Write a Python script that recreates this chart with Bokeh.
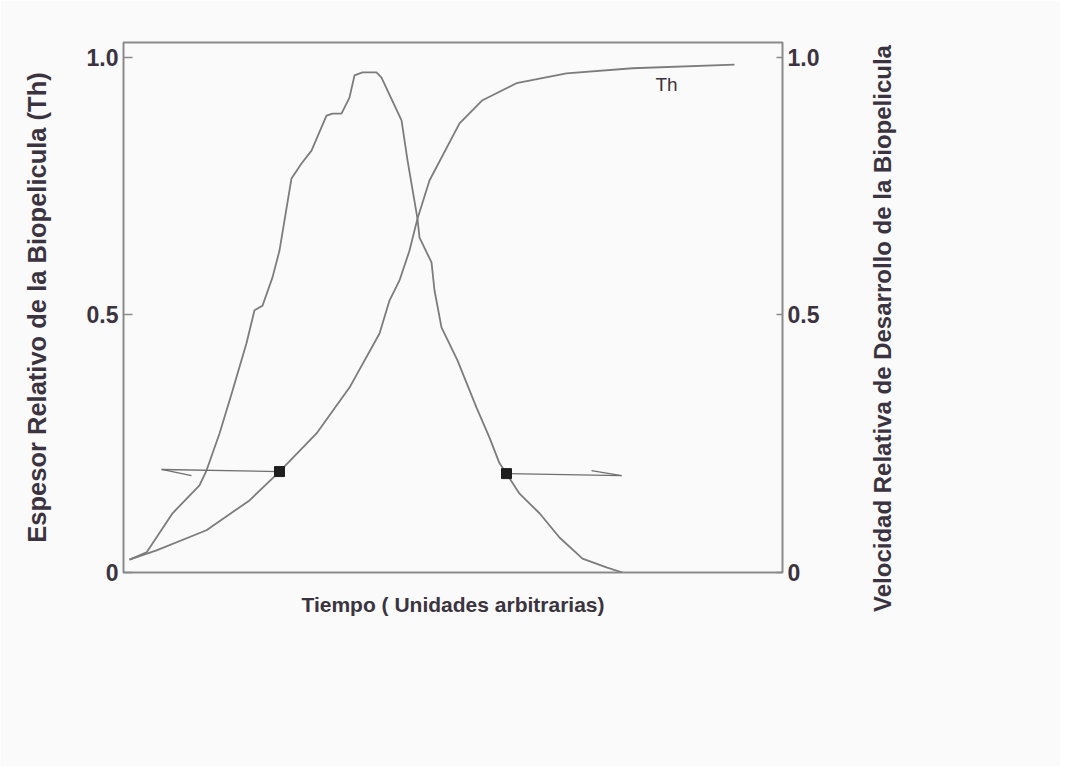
import math
from bokeh.plotting import figure
from bokeh.models import Range1d, LinearAxis, FixedTicker, Label
from bokeh.core.properties import value
from bokeh.embed import file_html
from bokeh.resources import INLINE

# ---- data (x in arbitrary time units 0..100, y relative 0..1) ----
rate_x = [0.91, 3.49, 7.44, 11.53, 12.59, 14.57, 16.54, 18.66, 19.88, 21.09, 22.61, 23.67,
          25.49, 27.01, 28.53, 30.80, 31.71, 33.08, 34.29, 35.05, 36.27, 38.39, 39.15,
          42.19, 43.10, 44.61, 44.92, 46.74, 47.19, 48.25, 50.68, 53.57, 55.54, 57.06,
          58.12, 60.09, 63.13, 66.16, 69.65, 73.29, 75.72]
rate_y = [0.025, 0.039, 0.115, 0.169, 0.198, 0.270, 0.353, 0.445, 0.509, 0.518, 0.573, 0.625,
          0.765, 0.794, 0.819, 0.887, 0.891, 0.891, 0.922, 0.965, 0.971, 0.971, 0.961,
          0.878, 0.800, 0.687, 0.650, 0.602, 0.548, 0.476, 0.412, 0.320, 0.262, 0.212,
          0.192, 0.153, 0.115, 0.068, 0.027, 0.010, 0.0]

th_x = [0.91, 5.01, 12.59, 19.12, 23.67, 29.29, 34.29, 38.85, 40.36, 41.88, 43.40, 44.61,
        46.43, 50.99, 54.48, 59.64, 67.22, 77.24, 92.72]
th_y = [0.025, 0.043, 0.082, 0.140, 0.196, 0.270, 0.359, 0.464, 0.528, 0.567, 0.625, 0.687,
        0.761, 0.872, 0.917, 0.950, 0.969, 0.979, 0.986]

marker_x = [23.67, 58.12]
marker_y = [0.196, 0.192]

# arrows: shaft end points and one-sided barbs
arrow_shaft_x = [[23.67, 5.77], [58.12, 75.57]]
arrow_shaft_y = [[0.196, 0.200], [0.192, 0.188]]
arrow_barb_x = [[5.77, 10.32], [71.02, 75.57]]
arrow_barb_y = [[0.200, 0.188], [0.198, 0.188]]

y_ticks = [0, 0.5, 1.0]
y_tick_labels = {0: "0", 0.5: "0.5", 1.0: "1.0"}
curve_label = "Th"
curve_label_pos = (82.4, 0.948)

x_title = "Tiempo ( Unidades arbitrarias)"
y_left_title = "Espesor Relativo de la Biopelicula (Th)"
y_right_title = "Velocidad Relativa de Desarrollo de la Biopelicula"

# ---- styling ----
FONT = "Liberation Sans"
TXT = "#3b3440"
LINE = "#7c7c7c"
FRAME = "#8a8a8a"
BG = "#fafafa"

p = figure(width=1060, height=766, output_backend="svg", toolbar_location=None,
           x_range=Range1d(0, 100), y_range=Range1d(0, 1.029),
           min_border_left=123, min_border_right=278, min_border_top=42, min_border_bottom=194,
           x_axis_location=None, y_axis_location=None)
p.background_fill_color = BG
p.border_fill_color = BG
p.outline_line_color = FRAME
p.outline_line_width = 2
p.grid.visible = False

def style_y(ax, standoff, size):
    ax.ticker = FixedTicker(ticks=y_ticks)
    ax.major_label_overrides = y_tick_labels
    ax.major_label_text_font = FONT
    ax.major_label_text_font_style = "bold"
    ax.major_label_text_font_size = "23px"
    ax.major_label_text_color = TXT
    ax.major_label_standoff = 5
    ax.axis_label_text_font = FONT
    ax.axis_label_text_font_style = "bold"
    ax.axis_label_text_font_size = size
    ax.axis_label_text_color = TXT
    ax.axis_label_standoff = standoff
    ax.axis_line_color = None
    ax.major_tick_in = 9
    ax.major_tick_out = 0
    ax.major_tick_line_color = FRAME
    ax.major_tick_line_width = 1.5
    ax.minor_tick_line_color = None

left = LinearAxis(axis_label=y_left_title)
style_y(left, 33, "25.5px")
p.add_layout(left, "left")

right = LinearAxis()
style_y(right, 44, "24px")
right.major_tick_in = 6
p.add_layout(right, "right")

# right-hand title reads bottom-to-top; placed in a side panel next to the right axis
right_title = Label(x=60, y=244, x_units="screen", y_units="screen", text=y_right_title,
                    angle=math.pi / 2, text_align="center", text_baseline="middle",
                    text_font=FONT, text_font_style="bold", text_font_size="24px",
                    text_color=TXT)
p.add_layout(right_title, "right")

bottom = LinearAxis(axis_label=x_title)
bottom.ticker = FixedTicker(ticks=[])
bottom.axis_line_color = None
bottom.major_tick_line_color = None
bottom.minor_tick_line_color = None
bottom.axis_label_text_font = FONT
bottom.axis_label_text_font_style = "bold"
bottom.axis_label_text_font_size = "21px"
bottom.axis_label_text_color = TXT
bottom.axis_label_standoff = 20
p.add_layout(bottom, "below")

p.line(rate_x, rate_y, line_color=LINE, line_width=1.8)
p.line(th_x, th_y, line_color=LINE, line_width=1.8)
p.multi_line(arrow_shaft_x, arrow_shaft_y, line_color="#6f6f6f", line_width=1.3)
p.multi_line(arrow_barb_x, arrow_barb_y, line_color="#6f6f6f", line_width=1.3)
p.scatter(marker_x, marker_y, marker="square", size=10, fill_color="#1e1e1e", line_color="#1e1e1e")

p.text(x=[curve_label_pos[0]], y=[curve_label_pos[1]], text=[curve_label],
       text_font=value(FONT), text_font_size="19px", text_color=TXT,
       text_align="center", text_baseline="middle")

open("out.html", "w").write(file_html(p, INLINE))
